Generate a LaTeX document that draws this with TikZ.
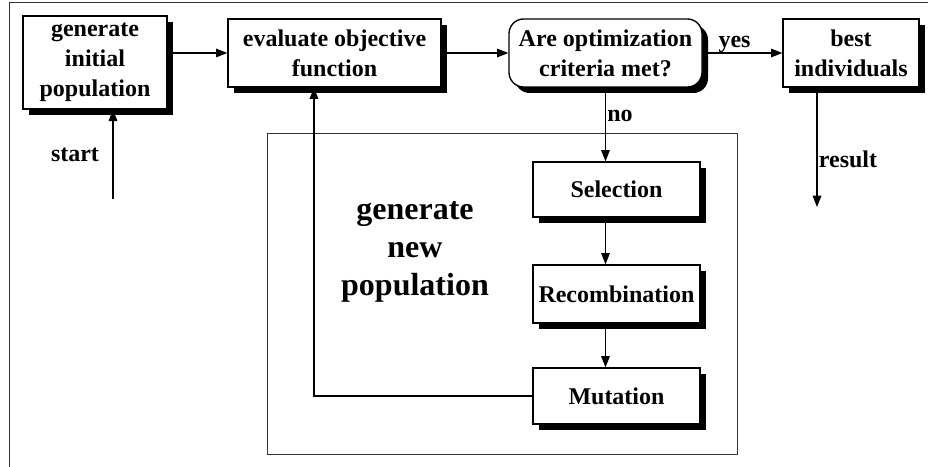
\documentclass[tikz,border=0pt]{standalone}
\usepackage{fontspec}
\setmainfont{Liberation Serif}
\usetikzlibrary{arrows.meta,shadows}

\begin{document}
\begin{tikzpicture}[x=0.75pt,y=-0.75pt,
  box/.style={rectangle,draw,line width=1pt,fill=white,align=center,inner sep=0pt,
    font=\fontsize{18}{22.5}\selectfont\bfseries,
    drop shadow={shadow xshift=4.5pt,shadow yshift=-4.5pt,fill=black,opacity=1}},
  decision/.style={box,rounded corners=11pt},
  lbl/.style={font=\fontsize{18}{21.6}\selectfont\bfseries,inner sep=1pt},
  arr/.style={-{Triangle[length=8.5pt,width=6.5pt]},line width=0.8pt}]
      \useasboundingbox (0,0) rectangle (928,467);
      % Frames
      \draw[line width=0.75pt,black!80] (9,3) rectangle (940,480);
      \draw[line width=0.75pt,black!80] (267,133) rectangle (737,454);
      % Boxes
      \node[box,minimum width=108pt,minimum height=69.75pt] (init) at (95,62.5) {generate\\initial\\population};
      \node[box,minimum width=159.75pt,minimum height=51pt] (eval) at (334.5,53) {evaluate objective\\function};
      \node[decision,minimum width=144.75pt,minimum height=51pt] (crit) at (605.5,53) {Are optimization\\criteria met?};
      \node[box,minimum width=102pt,minimum height=51pt] (best) at (851,53) {best\\individuals};
      \node[box,minimum width=125.25pt,minimum height=41.25pt] (sel) at (616.5,189.5) {Selection};
      \node[box,minimum width=125.25pt,minimum height=43.5pt] (rec) at (616.5,294) {Recombination};
      \node[box,minimum width=125.25pt,minimum height=42pt] (mut) at (616.5,396) {Mutation};
      \node[font=\fontsize{24}{28.5}\selectfont\bfseries,align=center] (newpop) at (415,252) {generate\\new\\population};
      % Loose ends
      \coordinate (start) at (113,199);
      \coordinate (res) at (817,207);
      \node[lbl] (startlbl) at (75,155) {start};
      % Arrows
      \draw[arr] (start) -- (start |- init.south);
      \draw[arr] (init.east |- eval.west) -- (eval.west);
      \draw[arr] (eval) -- (crit);
      \draw[arr] (crit) -- node[lbl,above,pos=0.4,inner sep=0pt] {yes} (best);
      \draw[arr] (crit) -- node[lbl,right,pos=0.38] {no} (crit |- sel.north);
      \draw[arr] (crit |- sel.south) -- (crit |- rec.north);
      \draw[arr] (crit |- rec.south) -- (crit |- mut.north);
      \draw[arr] (mut.west) -| ([xshift=-15.4pt]eval.south);
      \draw[arr] (res |- best.south) -- node[lbl,right,pos=0.6] {result} (res);
    \end{tikzpicture}
\end{document}
